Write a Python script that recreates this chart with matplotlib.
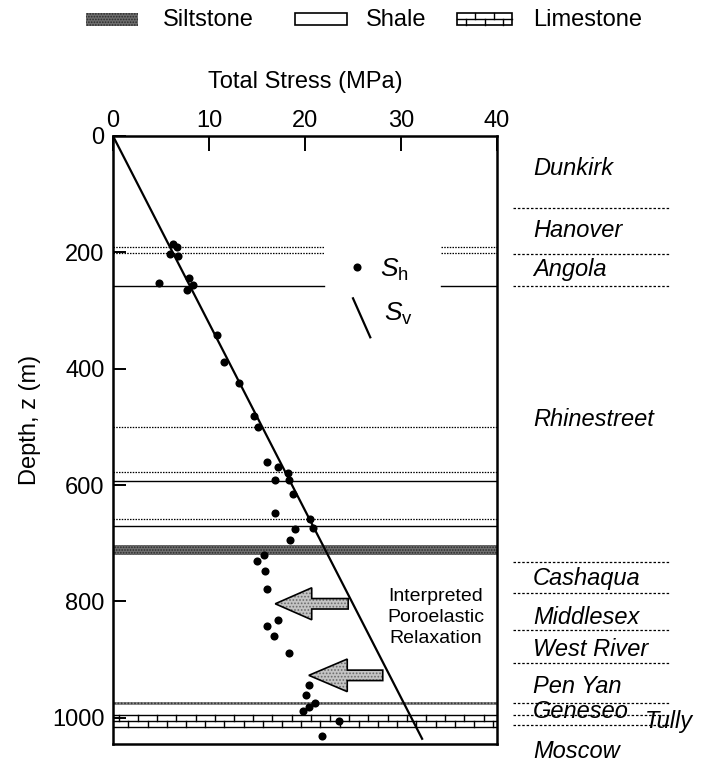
import matplotlib
matplotlib.use("Agg")
import matplotlib.pyplot as plt
import matplotlib.transforms as mtransforms
from matplotlib.patches import Polygon, Rectangle

plt.rcParams['font.family'] = ['Liberation Sans', 'DejaVu Sans']
plt.rcParams['mathtext.fontset'] = 'custom'
plt.rcParams['mathtext.it'] = 'Liberation Sans:italic'
plt.rcParams['mathtext.rm'] = 'Liberation Sans'
plt.rcParams['hatch.linewidth'] = 0.8

# ---------------- data ----------------
sh_stress = [6.3, 6.7, 5.9, 6.8, 7.9, 4.8, 8.3, 7.7, 10.8, 11.6, 13.1, 14.7, 15.1,
             16.0, 17.2, 18.2, 16.9, 18.3, 18.8, 16.9, 20.5, 20.8, 19.0, 18.4,
             15.7, 15.0, 15.8, 16.0, 17.2, 16.0, 16.8, 18.3, 20.4, 20.1, 21.0,
             20.4, 19.8, 23.5, 21.8]
sh_depth = [185, 190, 202, 207, 244, 253, 256, 264, 342, 388, 424, 481, 501,
            560, 569, 579, 591, 592, 616, 648, 659, 674, 675, 694,
            720, 730, 747, 778, 832, 842, 859, 888, 944, 961, 975,
            981, 989, 1005, 1032]
sv_stress = [0, 32.2]
sv_depth = [0, 1036]

x_ticks = [0, 10, 20, 30, 40]
y_ticks = [0, 200, 400, 600, 800, 1000]

# layer boundaries inside the plot
gap_dotted = [190, 201]
gap_solid = [258]
full_dotted = [500, 577, 659]
full_solid = [593, 671]
siltstone_band = (703, 721)
siltstone_thin = (973.5, 978)
limestone_band = (996, 1015)

# formation column
formation_names = ['Dunkirk', 'Hanover', 'Angola', 'Rhinestreet', 'Cashaqua',
                   'Middlesex', 'West River', 'Pen Yan', 'Geneseo', 'Moscow']
formation_label_depth = [56, 162, 229, 488, 760, 827, 883, 947, 990, 1058]
formation_tops = [123, 202, 258, 732, 785, 849, 906, 974, 995, 1012]
tully_depth = 1007

# ---------------- figure ----------------
W, H = 710, 765
fig = plt.figure(figsize=(W / 100, H / 100), dpi=100)
ax = fig.add_axes([113 / W, 1 - 744 / H, 384 / W, 608 / H])
ax.set_xlim(0, 40)
ax.set_ylim(1045, 0)

for s in ax.spines.values():
    s.set_linewidth(1.8)
ax.xaxis.tick_top()
ax.set_xticks(x_ticks)
ax.set_yticks(y_ticks)
ax.tick_params(axis='x', direction='in', length=11, width=1.4, labelsize=17, pad=3)
ax.tick_params(axis='y', direction='in', length=9.5, width=1.4, labelsize=17, pad=6)

# layer lines
for d in gap_dotted:
    ax.plot([0, 22], [d, d], color='k', lw=0.9, ls=(0, (1.2, 1)))
    ax.plot([34.2, 40], [d, d], color='k', lw=0.9, ls=(0, (1.2, 1)))
for d in gap_solid:
    ax.plot([0, 22], [d, d], color='k', lw=1.0)
    ax.plot([34.2, 40], [d, d], color='k', lw=1.0)
for d in full_dotted:
    ax.axhline(d, color='k', lw=0.9, ls=(0, (1.2, 1)))
for d in full_solid:
    ax.axhline(d, color='k', lw=1.0)

ax.fill_between([0, 40], siltstone_band[0], siltstone_band[1], facecolor='#6e6e6e',
                hatch='......', edgecolor='#2a2a2a', lw=0)
ax.fill_between([0, 40], siltstone_thin[0], siltstone_thin[1], facecolor='#8a8a8a',
                hatch='.....', edgecolor='#333333', lw=0)

# limestone bricks
lt, lb = limestone_band
lm = (lt + lb) / 2
for d in (lt, lm, lb):
    ax.axhline(d, color='k', lw=1.0)
bx = 0.6
while bx < 40:
    ax.plot([bx, bx], [lt, lm], color='k', lw=1.0)
    if bx + 1.0 < 40:
        ax.plot([bx + 1.0, bx + 1.0], [lm, lb], color='k', lw=1.0)
    bx += 2.0

# Sv line and Sh points
ax.plot(sv_stress, sv_depth, color='k', lw=1.6, zorder=4)
ax.scatter(sh_stress, sh_depth, s=34, color='k', zorder=5, linewidths=0)

# in-plot legend
ax.scatter([25.4], [226], s=34, color='k', zorder=5, linewidths=0)
ax.text(27.8, 231, r'$S_\mathrm{h}$', fontsize=19, va='center', ha='left')
ax.plot([25.0, 26.8], [279, 346], color='k', lw=1.6)
ax.text(28.2, 306, r'$S_\mathrm{v}$', fontsize=19, va='center', ha='left')

# arrows
def block_arrow(tail, tip, y, shaft_hw, head_hw, head_len):
    hb = tip + head_len
    pts = [(tail, y - shaft_hw), (hb, y - shaft_hw), (hb, y - head_hw), (tip, y),
           (hb, y + head_hw), (hb, y + shaft_hw), (tail, y + shaft_hw)]
    ax.add_patch(Polygon(pts, closed=True, facecolor='#c4c4c4', hatch='.....',
                         edgecolor='#6a6a6a', lw=0, zorder=6))
    ax.add_patch(Polygon(pts, closed=True, facecolor='none', edgecolor='k',
                         lw=1.2, zorder=7))

block_arrow(24.5, 16.9, 804, 9, 27.5, 3.8)
block_arrow(28.1, 20.4, 927, 9, 28, 4.0)

ax.text(33.6, 827, 'Interpreted\nPoroelastic\nRelaxation', fontsize=14,
        ha='center', va='center', linespacing=1.3, zorder=8)

# formation column (outside right)
trans = mtransforms.blended_transform_factory(ax.transAxes, ax.transData)
for d in formation_tops:
    ax.plot([1.042, 1.45], [d, d], transform=trans, clip_on=False, color='k',
            lw=0.9, ls=(0, (2, 1.5)))
for name, d in zip(formation_names, formation_label_depth):
    ax.text(1.094, d, name, transform=trans, fontsize=17, style='italic',
            ha='left', va='center', clip_on=False)
ax.text(1.385, tully_depth, 'Tully', transform=trans, fontsize=17, style='italic',
        ha='left', va='center', clip_on=False)

# overlay for legend and titles in pixel coordinates
ov = fig.add_axes([0, 0, 1, 1], facecolor='none')
ov.set_xlim(0, W)
ov.set_ylim(H, 0)
ov.axis('off')

ov.add_patch(Rectangle((86, 13), 52, 13, facecolor='#6e6e6e', hatch='......',
                       edgecolor='#2a2a2a', lw=0))
ov.text(163, 20, 'Siltstone', fontsize=17, va='center', ha='left')
ov.add_patch(Rectangle((295, 13), 52, 12, facecolor='white', edgecolor='k', lw=1.2))
ov.text(366, 20, 'Shale', fontsize=17, va='center', ha='left')
ov.add_patch(Rectangle((457, 13), 55, 12, facecolor='white', edgecolor='k', lw=1.2))
ov.plot([457, 512], [19, 19], color='k', lw=1.0)
for xx in (475, 494):
    ov.plot([xx, xx], [13, 19], color='k', lw=1.0)
for xx in (466, 485, 503):
    ov.plot([xx, xx], [19, 25], color='k', lw=1.0)
ov.text(533, 20, 'Limestone', fontsize=17, va='center', ha='left')

ov.text(305, 82, 'Total Stress (MPa)', fontsize=17, va='center', ha='center')
ov.text(30, 420, 'Depth, z (m)', fontsize=17, va='center', ha='center', rotation=90)

fig.savefig('out.png', dpi=100)
